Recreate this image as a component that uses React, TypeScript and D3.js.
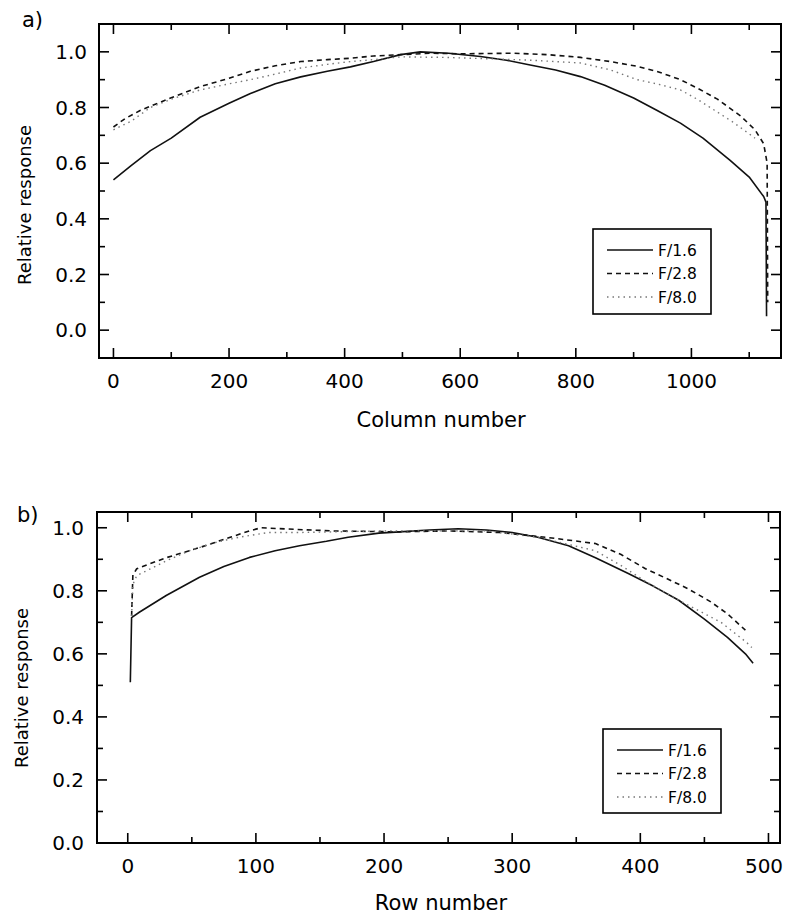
import React from "react";
import * as d3 from "d3";

// ---------- data ----------
const seriesNames = ["F/1.6", "F/2.8", "F/8.0"];

const colF16: [number, number][] = [[0,0.54],[30,0.59],[64,0.645],[100,0.69],[150,0.765],[200,0.815],[237,0.85],[280,0.885],[324,0.91],[370,0.93],[410,0.946],[450,0.965],[497,0.99],[531,1.0],[580,0.995],[635,0.983],[680,0.97],[721,0.953],[765,0.935],[808,0.911],[850,0.88],[900,0.834],[940,0.79],[981,0.744],[1020,0.69],[1067,0.61],[1100,0.55],[1125,0.48],[1129,0.46],[1130,0.05]];
const colF28: [number, number][] = [[0,0.73],[20,0.76],[47,0.79],[100,0.835],[150,0.875],[200,0.905],[237,0.93],[280,0.95],[324,0.965],[370,0.972],[410,0.977],[450,0.985],[497,0.99],[550,0.995],[600,0.993],[692,0.995],[750,0.99],[808,0.98],[860,0.965],[906,0.948],[940,0.93],[981,0.9],[1010,0.87],[1045,0.83],[1085,0.77],[1110,0.72],[1125,0.67],[1131,0.6],[1132,0.1]];
const colF80: [number, number][] = [[0,0.72],[30,0.75],[64,0.8],[100,0.83],[150,0.863],[200,0.885],[237,0.9],[280,0.92],[324,0.942],[370,0.955],[410,0.965],[450,0.972],[497,0.982],[573,0.98],[650,0.975],[721,0.97],[808,0.96],[860,0.935],[906,0.9],[940,0.885],[981,0.863],[1010,0.83],[1040,0.79],[1070,0.75],[1097,0.71],[1110,0.69]];

const rowF16: [number, number][] = [[2,0.51],[3,0.715],[9,0.732],[30,0.785],[56,0.843],[75,0.877],[95,0.906],[115,0.927],[134,0.943],[155,0.957],[172,0.97],[196,0.983],[212,0.987],[235,0.993],[258,0.997],[280,0.993],[300,0.985],[320,0.97],[344,0.943],[365,0.905],[391,0.854],[410,0.815],[430,0.77],[450,0.71],[468,0.652],[482,0.6],[488,0.57]];
const rowF28: [number, number][] = [[3,0.72],[4,0.85],[7,0.87],[30,0.905],[56,0.937],[80,0.97],[95,0.99],[104,1.0],[130,0.995],[160,0.99],[212,0.987],[250,0.99],[290,0.985],[326,0.97],[365,0.95],[385,0.915],[404,0.87],[420,0.84],[437,0.807],[455,0.765],[468,0.727],[482,0.675]];
const rowF80: [number, number][] = [[3,0.72],[4,0.82],[7,0.848],[30,0.895],[48,0.927],[70,0.955],[87,0.97],[110,0.985],[134,0.985],[200,0.99],[280,0.99],[320,0.97],[365,0.927],[385,0.88],[404,0.83],[430,0.77],[463,0.7],[483,0.636],[487,0.62]];

const yMajorTicks = [0, 0.2, 0.4, 0.6, 0.8, 1.0];
const yMinorTicks = [0.1, 0.3, 0.5, 0.7, 0.9];
const colMajorTicks = [0, 200, 400, 600, 800, 1000];
const colMinorTicks = [100, 300, 500, 700, 900, 1100];
const rowMajorTicks = [0, 100, 200, 300, 400, 500];
const rowMinorTicks = [50, 150, 250, 350, 450];

const FONT = "'DejaVu Sans', 'Liberation Sans', sans-serif";

const styles = [
  { stroke: "#111", dash: undefined as string | undefined, width: 1.6 },
  { stroke: "#111", dash: "5,4", width: 1.6 },
  { stroke: "#777", dash: "1.5,4", width: 1.4 },
];

type PanelProps = {
  label: string;
  xTitle: string;
  x: d3.ScaleLinear<number, number>;
  y: d3.ScaleLinear<number, number>;
  xMajor: number[];
  xMinor: number[];
  series: [number, number][][];
  legend: { x: number; y: number; w: number; h: number };
  labelPos: [number, number];
  yTitlePos: [number, number];
  xTitleY: number;
  xTickY: number;
  yTickX: number;
};

function Panel(p: PanelProps) {
  const [x0, x1] = p.x.range();
  const [y0, y1] = p.y.range(); // y0 bottom, y1 top
  const major = 10, minor = 6;
  const line = d3.line<[number, number]>().x(d => p.x(d[0])).y(d => p.y(d[1]));
  return (
    <g>
      {p.series.map((s, i) => (
        <path key={i} d={line(s) || ""} fill="none" stroke={styles[i].stroke}
          strokeWidth={styles[i].width} strokeDasharray={styles[i].dash} strokeLinejoin="round" />
      ))}
      <rect x={x0} y={y1} width={x1 - x0} height={y0 - y1} fill="none" stroke="#000" strokeWidth={2} />
      {p.xMajor.map(v => (
        <g key={"xm" + v}>
          <line x1={p.x(v)} x2={p.x(v)} y1={y0} y2={y0 - major} stroke="#000" strokeWidth={1.6} />
          <line x1={p.x(v)} x2={p.x(v)} y1={y1} y2={y1 + major} stroke="#000" strokeWidth={1.6} />
          <text x={Math.min(p.x(v), 764)} y={p.xTickY} textAnchor="middle" fontFamily={FONT} fontSize={20}>{v}</text>
        </g>
      ))}
      {p.xMinor.map(v => (
        <g key={"xn" + v}>
          <line x1={p.x(v)} x2={p.x(v)} y1={y0} y2={y0 - minor} stroke="#000" strokeWidth={1.6} />
          <line x1={p.x(v)} x2={p.x(v)} y1={y1} y2={y1 + minor} stroke="#000" strokeWidth={1.6} />
        </g>
      ))}
      {yMajorTicks.map(v => (
        <g key={"ym" + v}>
          <line x1={x0} x2={x0 + major} y1={p.y(v)} y2={p.y(v)} stroke="#000" strokeWidth={1.6} />
          <line x1={x1} x2={x1 - major} y1={p.y(v)} y2={p.y(v)} stroke="#000" strokeWidth={1.6} />
          <text x={p.yTickX} y={p.y(v)} dy="0.36em" textAnchor="end" fontFamily={FONT} fontSize={20}>{v.toFixed(1)}</text>
        </g>
      ))}
      {yMinorTicks.map(v => (
        <g key={"yn" + v}>
          <line x1={x0} x2={x0 + minor} y1={p.y(v)} y2={p.y(v)} stroke="#000" strokeWidth={1.6} />
          <line x1={x1} x2={x1 - minor} y1={p.y(v)} y2={p.y(v)} stroke="#000" strokeWidth={1.6} />
        </g>
      ))}
      <text x={441} y={p.xTitleY} textAnchor="middle" fontFamily={FONT} fontSize={21}>{p.xTitle}</text>
      <text transform={`translate(${p.yTitlePos[0]},${p.yTitlePos[1]}) rotate(-90)`} textAnchor="middle"
        fontFamily={FONT} fontSize={18}>Relative response</text>
      <text x={p.labelPos[0]} y={p.labelPos[1]} fontFamily={FONT} fontSize={21}>{p.label}</text>
      <rect x={p.legend.x} y={p.legend.y} width={p.legend.w} height={p.legend.h} fill="#fff" stroke="#000" strokeWidth={1.6} />
      {seriesNames.map((n, i) => {
        const ly = p.legend.y + 21 + i * 23.5;
        return (
          <g key={n}>
            <line x1={p.legend.x + 14} x2={p.legend.x + 60} y1={ly} y2={ly} stroke={styles[i].stroke}
              strokeWidth={styles[i].width} strokeDasharray={styles[i].dash} />
            <text x={p.legend.x + 65} y={ly} dy="0.36em" fontFamily={FONT} fontSize={15.5}>{n}</text>
          </g>
        );
      })}
    </g>
  );
}

export default function App() {
  const xTop = d3.scaleLinear().domain([-25, 1155]).range([99, 781]);
  const yTop = d3.scaleLinear().domain([-0.1, 1.1]).range([358, 24]);
  const xBot = d3.scaleLinear().domain([-24, 509]).range([97, 780]);
  const yBot = d3.scaleLinear().domain([0, 1.05]).range([843, 512]);
  return (
    <svg width={785} height={917} style={{ position: "absolute", left: 0, top: 0, background: "#fff" }}>
      <rect width={785} height={917} fill="#fff" />
      <Panel label="a)" xTitle="Column number" x={xTop} y={yTop} xMajor={colMajorTicks} xMinor={colMinorTicks}
        series={[colF16, colF28, colF80]} legend={{ x: 593, y: 229, w: 118, h: 85 }}
        labelPos={[22, 27]} yTitlePos={[31, 205]} xTitleY={427} xTickY={388} yTickX={87} />
      <Panel label="b)" xTitle="Row number" x={xBot} y={yBot} xMajor={rowMajorTicks} xMinor={rowMinorTicks}
        series={[rowF16, rowF28, rowF80]} legend={{ x: 603, y: 729, w: 118, h: 84 }}
        labelPos={[17, 522]} yTitlePos={[28, 688]} xTitleY={910} xTickY={873} yTickX={84} />
    </svg>
  );
}
